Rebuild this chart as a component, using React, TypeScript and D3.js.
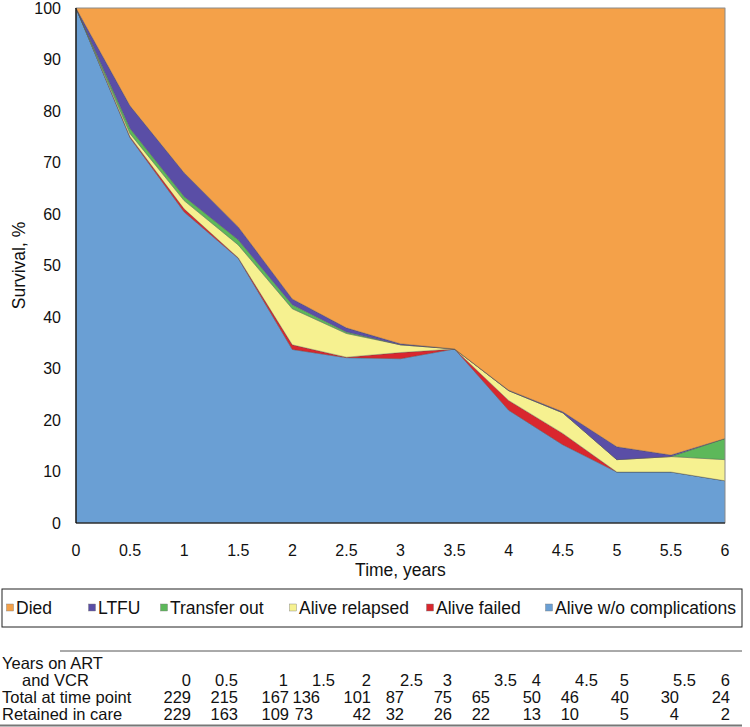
import React from "react";
import * as d3 from "d3";

const years = [0, 0.5, 1, 1.5, 2, 2.5, 3, 3.5, 4, 4.5, 5, 5.5, 6];
const aliveNoComp = [100, 74.8, 60.4, 51.4, 33.7, 32.1, 31.9, 33.8, 21.9, 15.2, 9.9, 9.9, 8.2];
const aliveFailed = [0, 0.2, 0.6, 0.1, 0.9, 0.1, 1.2, 0, 1.9, 2.2, 0, 0, 0];
const aliveRelapsed = [0, 0.6, 1.6, 2.5, 7.0, 4.6, 1.5, 0, 1.9, 4.0, 2.4, 3.0, 4.1];
const transferOut = [0, 1.0, 0.8, 1.0, 0.8, 0.3, 0, 0, 0, 0, 0, 0, 4.1];
const ltfu = [0, 4.4, 4.6, 2.5, 1.1, 0.8, 0.2, 0, 0.1, 0.2, 2.5, 0.3, 0];
const died = years.map((_, i) =>
  Math.max(0, 100 - aliveNoComp[i] - aliveFailed[i] - aliveRelapsed[i] - transferOut[i] - ltfu[i])
);

const yTicks = [0, 10, 20, 30, 40, 50, 60, 70, 80, 90, 100];
const legendLabels = ["Died", "LTFU", "Transfer out", "Alive relapsed", "Alive failed", "Alive w/o complications"];

const tableYears = ["0", "0.5", "1", "1.5", "2", "2.5", "3", "3.5", "4", "4.5", "5", "5.5", "6"];
const totalAtTimePoint = [229, 215, 167, 136, 101, 87, 75, 65, 50, 46, 40, 30, 24];
const retainedInCare = [229, 163, 109, 73, 42, 32, 26, 22, 13, 10, 5, 4, 2];

// layout (text positions of the table columns, right edges)
const yearColRight = [191, 238, 288, 335, 371, 423, 452, 517, 541, 598, 629, 696, 730];
const totalColRight = [191, 238, 289, 320, 371, 404, 452, 490, 541, 579, 629, 679, 730];
const retainedColRight = [191, 238, 289, 313, 371, 404, 452, 490, 541, 579, 629, 679, 730];
const legendX = [6, 88, 160, 289, 426, 545];

const keys = ["alive", "failed", "relapsed", "transfer", "ltfu", "died"];
const colors: Record<string, string> = {
  died: "#F4A149",
  ltfu: "#5A4EA6",
  transfer: "#5DB85A",
  relapsed: "#F6F190",
  failed: "#D9272E",
  alive: "#6A9FD4",
};
const legendKeys = ["died", "ltfu", "transfer", "relapsed", "failed", "alive"];

const W = 750, H = 727;
const L = 76, R = 725, T = 8, B = 523;
const FONT = "'Liberation Sans', Arial, Helvetica, sans-serif";
const TF = 16.5;

export default function App() {
  const rows = years.map((t, i) => ({
    t,
    alive: aliveNoComp[i],
    failed: aliveFailed[i],
    relapsed: aliveRelapsed[i],
    transfer: transferOut[i],
    ltfu: ltfu[i],
    died: died[i],
  }));
  const x = d3.scaleLinear().domain([0, 6]).range([L, R]);
  const y = d3.scaleLinear().domain([0, 100]).range([B, T]);
  const series = d3.stack<any>().keys(keys)(rows);
  const area = d3
    .area<any>()
    .x((d) => x(d.data.t))
    .y0((d) => y(d[0]))
    .y1((d) => y(Math.min(100, d[1])));

  const rowY = [663, 680, 697, 714];

  return (
    <svg
      width={W}
      height={H}
      style={{ position: "absolute", left: 0, top: 0, background: "#fff" }}
      fontFamily={FONT}
    >
      <rect x={0} y={0} width={W} height={H} fill="#fff" />
      {series.map((s) => (
        <path
          key={s.key}
          d={area(s) || ""}
          fill={colors[s.key]}
          stroke="#4a4a4a"
          strokeOpacity={0.55}
          strokeWidth={0.6}
          strokeLinejoin="round"
        />
      ))}
      <rect x={L} y={T} width={R - L} height={B - T} fill="none" stroke="#9a9a9a" strokeWidth={0.8} />
      <line x1={L} x2={L} y1={T} y2={B} stroke="#000" strokeWidth={1.2} />
      <line x1={L} x2={R} y1={B} y2={B} stroke="#000" strokeWidth={1.2} />

      {yTicks.map((v) => (
        <text key={v} x={61} y={y(v)} dy="0.36em" textAnchor="end" fontSize={16} fill="#111">
          {v}
        </text>
      ))}
      {years.map((t) => (
        <text key={t} x={x(t)} y={550} dy="0.36em" textAnchor="middle" fontSize={16} fill="#111">
          {t}
        </text>
      ))}
      <text x={(L + R) / 2} y={570} dy="0.36em" textAnchor="middle" fontSize={17.5} fill="#111">
        Time, years
      </text>
      <text
        transform={`translate(19, ${(T + B) / 2}) rotate(-90)`}
        dy="0.36em"
        textAnchor="middle"
        fontSize={17.5}
        fill="#111"
      >
        Survival, %
      </text>

      {/* legend */}
      <rect x={2} y={589} width={740} height={38} fill="#fff" stroke="#222" strokeWidth={1} />
      {legendKeys.map((k, i) => (
        <g key={k}>
          <rect x={legendX[i] + 0.5} y={604} width={7} height={7} fill={colors[k]} stroke="#777" strokeWidth={0.4} />
          <text x={legendX[i] + 10} y={608} dy="0.36em" fontSize={17.5} fill="#111">
            {legendLabels[i]}
          </text>
        </g>
      ))}

      {/* table */}
      <line x1={60} x2={742} y1={651} y2={651} stroke="#555" strokeWidth={1} />
      <line x1={0} x2={742} y1={725.5} y2={725.5} stroke="#777" strokeWidth={2} />
      <text x={2} y={rowY[0]} dy="0.36em" fontSize={TF} fill="#111">Years on ART</text>
      <text x={22} y={rowY[1]} dy="0.36em" fontSize={TF} fill="#111">and VCR</text>
      <text x={2} y={rowY[2]} dy="0.36em" fontSize={TF} fill="#111">Total at time point</text>
      <text x={2} y={rowY[3]} dy="0.36em" fontSize={TF} fill="#111">Retained in care</text>
      {tableYears.map((v, i) => (
        <text key={"y" + i} x={yearColRight[i]} y={rowY[1]} dy="0.36em" textAnchor="end" fontSize={TF} fill="#111">
          {v}
        </text>
      ))}
      {totalAtTimePoint.map((v, i) => (
        <text key={"t" + i} x={totalColRight[i]} y={rowY[2]} dy="0.36em" textAnchor="end" fontSize={TF} fill="#111">
          {v}
        </text>
      ))}
      {retainedInCare.map((v, i) => (
        <text key={"r" + i} x={retainedColRight[i]} y={rowY[3]} dy="0.36em" textAnchor="end" fontSize={TF} fill="#111">
          {v}
        </text>
      ))}
    </svg>
  );
}
